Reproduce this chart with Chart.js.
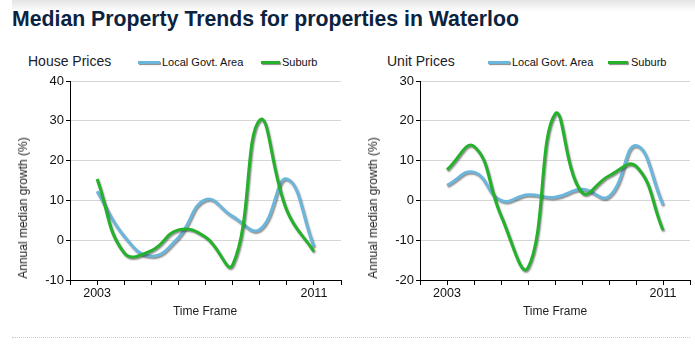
<!DOCTYPE html>
<html>
<head>
<meta charset="utf-8">
<script src="https://cdn.jsdelivr.net/npm/chart.js@4.4.1/dist/chart.umd.min.js"></script>
<style>
  html,body{margin:0;padding:0;background:#fff;}
  body{width:695px;height:359px;position:relative;overflow:hidden;font-family:"Liberation Sans",Arial,sans-serif;}
  .abs{position:absolute;white-space:nowrap;}
  #topband{left:12px;top:0;width:683px;height:12px;background:linear-gradient(#e4e4e4,#ffffff);}
  #title{left:12px;top:7px;font-size:19px;font-weight:bold;color:#0c2340;}
  .ctitle{font-size:14px;color:#1b1b2a;top:53px;}
  .leg{font-size:11px;color:#111;top:56px;}
  .sw{height:3px;top:61px;box-shadow:1px 1px 1px rgba(60,60,60,0.6);}
  .ytitle{font-size:12px;color:#222;transform:translate(-50%,-50%) rotate(-90deg);}
  .xtitle{font-size:12px;color:#222;transform:translate(-50%,-50%);}
  #dots{left:12px;top:337px;width:678px;border-top:1px dotted #c8c8c8;height:0;}
  .wrap{position:absolute;top:45px;height:290px;}
</style>
</head>
<body>
<div id="topband" class="abs"></div>
<div id="title" class="abs">Median Property Trends for properties in Waterloo</div>

<div class="abs ctitle" style="left:28px;">House Prices</div>
<div class="abs sw" style="left:138px;width:22px;background:#6cb6dc;"></div>
<div class="abs leg" style="left:162px;">Local Govt. Area</div>
<div class="abs sw" style="left:261px;width:19px;background:#25b12c;"></div>
<div class="abs leg" style="left:282px;">Suburb</div>

<div class="abs ctitle" style="left:387px;">Unit Prices</div>
<div class="abs sw" style="left:488px;width:22px;background:#6cb6dc;"></div>
<div class="abs leg" style="left:512px;">Local Govt. Area</div>
<div class="abs sw" style="left:608px;width:20px;background:#25b12c;"></div>
<div class="abs leg" style="left:631px;">Suburb</div>

<div class="wrap" style="left:0;width:345px;"><canvas id="c1" width="345" height="290"></canvas></div>
<div class="wrap" style="left:345px;width:350px;"><canvas id="c2" width="350" height="290"></canvas></div>

<div class="abs ytitle" style="left:23px;top:208px;">Annual median growth (%)</div>
<div class="abs ytitle" style="left:373px;top:208px;">Annual median growth (%)</div>
<div class="abs xtitle" style="left:205px;top:311px;">Time Frame</div>
<div class="abs xtitle" style="left:555px;top:311px;">Time Frame</div>
<div id="dots" class="abs"></div>

<script>
// ---- data ----
const years = [2003, 2004, 2005, 2006, 2007, 2008, 2009, 2010, 2011];
const xTickLabels = [2003, 2011];
const seriesNames = ["Local Govt. Area", "Suburb"];
const houseLga    = [12.3, 1.0, -4.0, 0.7, 10.2, 6.0, 2.7, 15.4, -1.6];
const houseSuburb = [15.4, -3.2, -2.6, 2.6, 0.8, -6.2, 30.2, 7.5, -2.8];
const unitLga     = [3.8, 7.1, 0.0, 1.4, 0.8, 2.8, 1.0, 13.8, -1.1];
const unitSuburb  = [7.7, 13.6, -3.8, -16.9, 21.7, 2.0, 6.2, 8.6, -7.5];
const houseYRange = [-10, 40];
const unitYRange  = [-20, 30];

// title fit
(function(){
  const t = document.getElementById('title');
  const w = t.getBoundingClientRect().width;
  if (w > 0) t.style.fontSize = (19 * 507 / w).toFixed(2) + 'px';
})();

const BLUE = '#6cb6dc', GREEN = '#25b12c';

const shadowPlugin = {
  id: 'lineShadow',
  beforeDatasetDraw(chart) {
    const ctx = chart.ctx;
    ctx.save();
    ctx.shadowColor = 'rgba(50,50,50,0.55)';
    ctx.shadowOffsetX = 1;
    ctx.shadowOffsetY = 1.5;
    ctx.shadowBlur = 1.5;
  },
  afterDatasetDraw(chart) { chart.ctx.restore(); }
};

function pts(vals) { return years.map((yr, i) => ({ x: yr, y: vals[i] })); }

function makeChart(id, lga, sub, yRange, yWidth, rightPad) {
  return new Chart(document.getElementById(id), {
    type: 'line',
    data: {
      datasets: [
        { label: seriesNames[0], data: pts(lga), borderColor: BLUE, borderWidth: 3, tension: 0.45,
          pointRadius: 0, fill: false, order: 2 },
        { label: seriesNames[1], data: pts(sub), borderColor: GREEN, borderWidth: 3, tension: 0.45,
          pointRadius: 0, fill: false, order: 1 }
      ]
    },
    options: {
      responsive: false,
      devicePixelRatio: 1,
      animation: false,
      events: [],
      layout: { padding: { top: 36, right: rightPad, left: 0, bottom: 0 } },
      plugins: { legend: { display: false }, tooltip: { enabled: false }, title: { display: false } },
      scales: {
        x: {
          type: 'linear', min: 2002, max: 2012,
          afterFit: s => { s.height = 55; },
          border: { display: true, color: '#000', width: 1 },
          grid: { drawOnChartArea: false, color: '#000', tickColor: '#000', tickLength: 5 },
          ticks: {
            stepSize: 1, autoSkip: false, maxRotation: 0, padding: 1,
            color: '#111', font: { family: '"Liberation Sans", Arial, sans-serif', size: 12.5 },
            callback: v => xTickLabels.includes(v) ? String(v) : ''
          }
        },
        y: {
          min: yRange[0], max: yRange[1],
          afterFit: s => { s.width = yWidth; },
          border: { display: true, color: '#000', width: 1 },
          grid: { color: '#d6d6d6', tickColor: '#000', tickLength: 4 },
          ticks: {
            stepSize: 10, padding: 2, color: '#111',
            font: { family: '"Liberation Sans", Arial, sans-serif', size: 13 }
          }
        }
      }
    },
    plugins: [shadowPlugin]
  });
}

makeChart('c1', houseLga, houseSuburb, houseYRange, 70, 4);
makeChart('c2', unitLga, unitSuburb, unitYRange, 75, 5);
</script>
</body>
</html>
